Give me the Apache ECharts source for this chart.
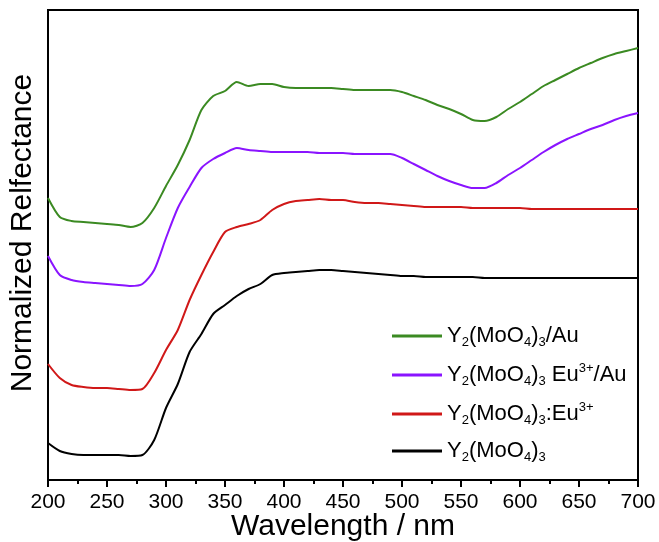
<!DOCTYPE html>
<html>
<head>
<meta charset="utf-8">
<script src="https://cdn.jsdelivr.net/npm/echarts@6/dist/echarts.min.js"></script>
<style>
  html, body { margin: 0; padding: 0; background: #fff; }
  #myChart { width: 659px; height: 542px; }
</style>
</head>
<body>
<div id="myChart"></div>
<script>
// wavelength (nm), one point every 10 nm
var wavelengths = [200,210,220,230,240,250,260,270,280,290,300,310,320,330,340,350,360,370,380,390,
  400,410,420,430,440,450,460,470,480,490,500,510,520,530,540,550,560,570,580,590,
  600,610,620,630,640,650,660,670,680,690,700];

// normalized reflectance, curves offset vertically (arbitrary units)
var ymoAu = [282,263,259,258,257,256,255,253,257,272,294,315,340,370,384,389,398,394,396,396,
  393,392,392,392,392,391,390,390,390,390,388,384,380,375,371,366,360,359,363,371,
  378,386,394,400,406,412,417,422,426,429,432];
var ymoEuAu = [224,205,200,198,197,196,195,194,196,210,242,272,293,312,321,327,332,330,329,328,
  328,328,328,327,327,327,326,326,326,326,322,316,310,304,299,295,292,292,297,305,
  312,320,328,335,341,346,351,355,360,364,367];
var ymoEu = [116,102,95,93,92,92,91,90,91,107,130,150,180,205,228,248,253,256,260,270,
  276,279,280,281,280,280,278,277,277,276,275,274,273,273,273,273,272,272,272,272,
  272,271,271,271,271,271,271,271,271,271,271];
var ymo = [37,29,26,25,25,25,25,24,25,40,72,96,128,146,166,175,184,191,196,205,
  207,208,209,210,210,209,208,207,206,205,204,204,203,203,203,203,203,202,202,202,
  202,202,202,202,202,202,202,202,202,202,202];

var seriesNames = ['Y2(MoO4)3/Au', 'Y2(MoO4)3 Eu3+/Au', 'Y2(MoO4)3:Eu3+', 'Y2(MoO4)3'];
var seriesColors = ['#3b8a22', '#8a14ff', '#d01818', '#000000'];
var seriesValues = [ymoAu, ymoEuAu, ymoEu, ymo];

// legend labels with sub/superscripts
var legendRich = {
  'Y2(MoO4)3/Au': '{n|Y}{s|2}{n|(MoO}{s|4}{n|)}{s|3}{n|/Au}',
  'Y2(MoO4)3 Eu3+/Au': '{n|Y}{s|2}{n|(MoO}{s|4}{n|)}{s|3}{n| Eu}{p|3+}{n|/Au}',
  'Y2(MoO4)3:Eu3+': '{n|Y}{s|2}{n|(MoO}{s|4}{n|)}{s|3}{n|:Eu}{p|3+}',
  'Y2(MoO4)3': '{n|Y}{s|2}{n|(MoO}{s|4}{n|)}{s|3}'
};

function pairs(xs, ys) {
  return xs.map(function (x, i) { return [x, ys[i]]; });
}

var font = 'Liberation Sans';
var myChart = echarts.init(document.getElementById('myChart'));

myChart.setOption({
  animation: false,
  grid: {
    left: 48, right: 21, top: 10, bottom: 62,
    outerBoundsMode: 'none',
    show: true, borderColor: '#000', borderWidth: 2
  },
  // axis titles
  graphic: [{
    type: 'text', x: 343, y: 512,
    style: { text: 'Wavelength / nm', fontSize: 30, fontFamily: font, fill: '#000', align: 'center', verticalAlign: 'top' }
  }, {
    type: 'text', x: 23, y: 233, rotation: Math.PI / 2,
    style: { text: 'Normalized Relfectance', fontSize: 30, fontFamily: font, fill: '#000', align: 'center', verticalAlign: 'middle' }
  }],
  legend: {
    orient: 'vertical',
    left: 392, top: 325,
    padding: 0,
    icon: 'rect',
    itemWidth: 50, itemHeight: 3,
    itemGap: 13,
    data: seriesNames,
    formatter: function (name) { return legendRich[name]; },
    textStyle: {
      fontFamily: font,
      rich: {
        n: { fontSize: 22, lineHeight: 26, color: '#000', fontFamily: font },
        s: { fontSize: 13, lineHeight: 13, verticalAlign: 'bottom', color: '#000', fontFamily: font },
        p: { fontSize: 13, lineHeight: 13, verticalAlign: 'top', color: '#000', fontFamily: font }
      }
    }
  },
  xAxis: {
    type: 'value',
    min: 200, max: 700, interval: 50,
    axisLine: { show: true, lineStyle: { color: '#000', width: 2 } },
    axisTick: { show: true, length: 7, lineStyle: { color: '#000', width: 2 } },
    minorTick: { show: true, splitNumber: 2, length: 4, lineStyle: { color: '#000', width: 2 } },
    axisLabel: { fontSize: 21, color: '#000', fontFamily: font, margin: 12 },
    splitLine: { show: false }
  },
  yAxis: {
    type: 'value',
    min: 0, max: 470,
    axisLine: { show: true, lineStyle: { color: '#000', width: 2 } },
    axisTick: { show: false },
    axisLabel: { show: false },
    splitLine: { show: false }
  },
  series: seriesNames.map(function (name, i) {
    return {
      name: name,
      type: 'line',
      symbol: 'none',
      smooth: 0.25,
      data: pairs(wavelengths, seriesValues[i]),
      lineStyle: { color: seriesColors[i], width: 2 },
      itemStyle: { color: seriesColors[i] }
    };
  })
});
</script>
</body>
</html>
